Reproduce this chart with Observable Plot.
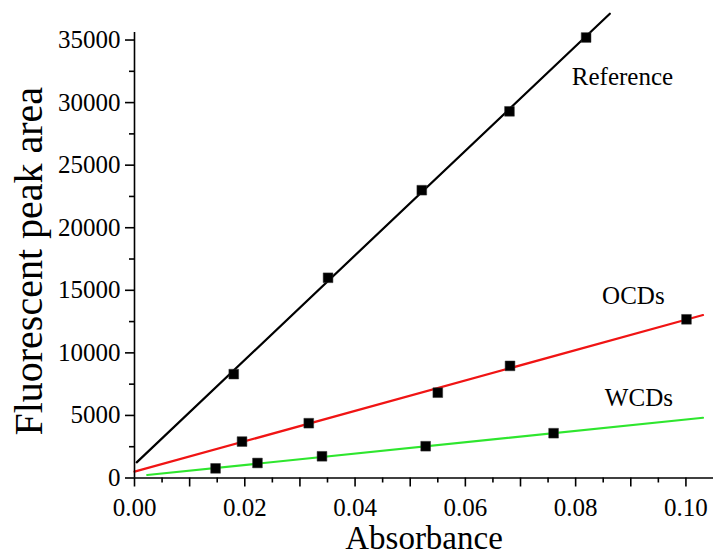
<!DOCTYPE html>
<html>
<head>
<meta charset="utf-8">
<script src="https://cdn.jsdelivr.net/npm/d3@7"></script>
<script src="https://cdn.jsdelivr.net/npm/@observablehq/plot@0.6"></script>
<style>
  html, body { margin: 0; padding: 0; background: #fff; }
  #chart svg { display: block; }
  #chart svg text { font-family: 'Liberation Serif', 'Times New Roman', serif; }
</style>
</head>
<body>
<div id="chart"></div>
<script>
// Measured points (absorbance, fluorescent peak area)
const refX  = [0.0180, 0.0351, 0.0521, 0.0680, 0.0819];
const refY  = [8300, 16000, 23000, 29300, 35200];
const ocdX  = [0.0195, 0.0316, 0.0550, 0.0681, 0.1001];
const ocdY  = [2910, 4380, 6820, 8960, 12680];
const wcdX  = [0.0147, 0.0223, 0.0340, 0.0528, 0.0760];
const wcdY  = [770, 1200, 1735, 2540, 3580];

// Fitted line end points
const refFitX = [0.0004, 0.0862];
const refFitY = [1250, 37100];
const ocdFitX = [0.0000, 0.1031];
const ocdFitY = [506, 13025];
const wcdFitX = [0.0023, 0.1031];
const wcdFitY = [240, 4815];

const seriesNames  = ["Reference", "OCDs", "WCDs"];
const seriesColors = ["#000000", "#f01414", "#2ee62e"];
const labelX = [0.0793, 0.0848, 0.0853];
const labelY = [32050, 14550, 6360];

// Axis ticks
const xLabelTicks = [0, 0.02, 0.04, 0.06, 0.08, 0.10];
const xMajorTicks = [0, 0.01, 0.02, 0.03, 0.04, 0.05, 0.06, 0.07, 0.08, 0.09, 0.10];
const xMinorTicks = [0.005, 0.015, 0.025, 0.035, 0.045, 0.055, 0.065, 0.075, 0.085, 0.095];
const yMajorTicks = [0, 5000, 10000, 15000, 20000, 25000, 30000, 35000];
const yMinorTicks = [2500, 7500, 12500, 17500, 22500, 27500, 32500];

const xTitle = "Absorbance";
const yTitle = "Fluorescent peak area";

const pts = [
  ...refX.map((x, i) => ({x, y: refY[i], s: "Reference"})),
  ...ocdX.map((x, i) => ({x, y: ocdY[i], s: "OCDs"})),
  ...wcdX.map((x, i) => ({x, y: wcdY[i], s: "WCDs"}))
];
const fits = [
  ...refFitX.map((x, i) => ({x, y: refFitY[i], s: "Reference"})),
  ...ocdFitX.map((x, i) => ({x, y: ocdFitY[i], s: "OCDs"})),
  ...wcdFitX.map((x, i) => ({x, y: wcdFitY[i], s: "WCDs"}))
];
const labels = seriesNames.map((s, i) => ({s, x: labelX[i], y: labelY[i]}));

const font = "'Liberation Serif', 'Times New Roman', serif";

const chart = Plot.plot({
  width: 713,
  height: 555,
  marginLeft: 134,
  marginRight: 0,
  marginTop: 12,
  marginBottom: 77.5,
  style: {fontFamily: font, fontSize: "25px", color: "#000", background: "#fff", overflow: "visible"},
  x: {domain: [0, 0.105], axis: null},
  y: {domain: [0, 37200], axis: null},
  color: {domain: seriesNames, range: seriesColors},
  marks: [
    // fitted lines
    Plot.line(fits, {x: "x", y: "y", z: "s", stroke: "s", strokeWidth: 2.2}),
    // data markers
    Plot.dot(pts, {x: "x", y: "y", symbol: "square", r: 5.5, fill: "#000", stroke: "#333", strokeWidth: 0.5}),
    // axis lines
    Plot.ruleY([0], {x1: 0, x2: 0.105, stroke: "#000", strokeWidth: 1.6}),
    Plot.ruleX([0], {y1: 0, y2: 35600, stroke: "#000", strokeWidth: 1.6}),
    // ticks
    Plot.axisX(xMajorTicks, {tickSize: 9, strokeWidth: 1.6, text: null, label: null}),
    Plot.axisX(xMinorTicks, {tickSize: 5, strokeWidth: 1.6, text: null, label: null}),
    Plot.axisX(xLabelTicks, {tickSize: 0, tickPadding: 20, tickFormat: d3.format(".2f"), fontSize: 25, fontFamily: font, fontVariant: "normal", label: null}),
    Plot.axisY(yMajorTicks, {tickSize: 9, strokeWidth: 1.6, tickPadding: 5, tickFormat: d3.format("d"), fontSize: 25, fontFamily: font, fontVariant: "normal", label: null}),
    Plot.axisY(yMinorTicks, {tickSize: 5, strokeWidth: 1.6, text: null, label: null}),
    // series labels
    Plot.text(labels, {x: "x", y: "y", text: "s", textAnchor: "start", lineAnchor: "middle", fontSize: 25, fontFamily: font, fill: "#000"}),
    // axis titles
    Plot.text([xTitle], {frameAnchor: "bottom", textAnchor: "middle", dy: 60, lineAnchor: "middle", fontSize: 33, fontFamily: font, fill: "#000"}),
    Plot.text([yTitle], {frameAnchor: "left", textAnchor: "middle", dx: -105, dy: 16, rotate: -90, lineAnchor: "middle", fontSize: 40, fontFamily: font, fill: "#000"})
  ]
});
document.getElementById("chart").appendChild(chart);
</script>
</body>
</html>
